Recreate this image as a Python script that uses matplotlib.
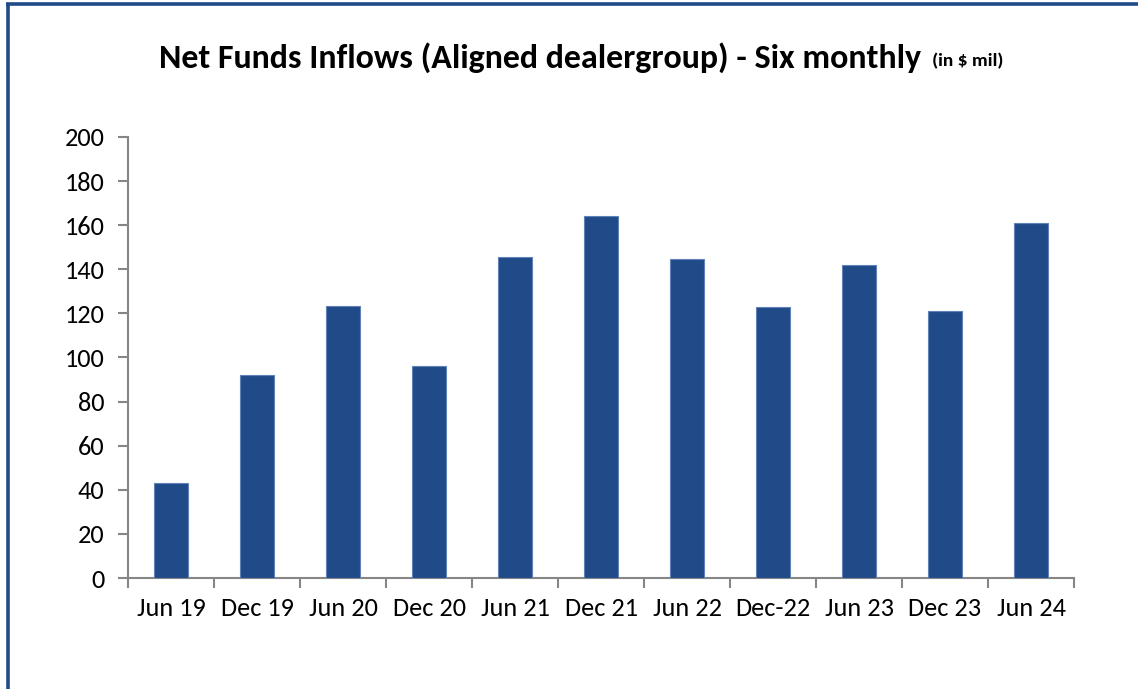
import matplotlib
matplotlib.use("Agg")
import matplotlib.pyplot as plt
from matplotlib import font_manager
from matplotlib.lines import Line2D

categories = ["Jun 19", "Dec 19", "Jun 20", "Dec 20", "Jun 21", "Dec 21",
              "Jun 22", "Dec-22", "Jun 23", "Dec 23", "Jun 24"]
inflows = [43, 92, 123.5, 96, 145.4, 164.2, 144.7, 122.8, 141.8, 121.2, 160.9]
yticks = [0, 20, 40, 60, 80, 100, 120, 140, 160, 180, 200]

names = {f.name for f in font_manager.fontManager.ttflist}
font = "Carlito" if "Carlito" in names else ("Lato" if "Lato" in names else "DejaVu Sans")
plt.rcParams['font.family'] = [font, 'DejaVu Sans']

fig = plt.figure(figsize=(11.38, 6.89), dpi=100)
ax = fig.add_axes([0.1125, 0.1611, 0.8313, 0.6401])

x = list(range(len(categories)))
ax.bar(x, inflows, width=0.4, color="#204B88", edgecolor="#5F82B8", linewidth=0.8, zorder=3)

ax.set_xlim(-0.5, len(categories) - 0.5)
ax.set_ylim(0, 200)
ax.set_yticks(yticks)
ax.set_yticklabels([str(t) for t in yticks])
ax.set_xticks(x)
ax.set_xticklabels(categories)
ax.set_xticks([i - 0.5 for i in range(len(categories) + 1)], minor=True)

axis_col = "#868686"
for s in ["top", "right"]:
    ax.spines[s].set_visible(False)
for s in ["left", "bottom"]:
    ax.spines[s].set_color(axis_col)
    ax.spines[s].set_linewidth(1.5)

ax.tick_params(axis="y", length=7, width=1.5, color=axis_col, labelsize=19, pad=10, labelcolor="#000000")
ax.tick_params(axis="x", which="major", length=0, labelsize=19, pad=14, labelcolor="#000000")
ax.tick_params(axis="x", which="minor", length=7, width=1.5, color=axis_col)

fig.text(0.4745, 0.917, "Net Funds Inflows (Aligned dealergroup) - Six monthly",
         ha="center", va="center", fontsize=24.5, fontweight="bold")
fig.text(0.819, 0.911, "(in $ mil)", ha="left", va="center", fontsize=14, fontweight="bold")

border = "#204B88"
fig.add_artist(Line2D([7.5 / 1138, 7.5 / 1138], [0, 1 - 3.5 / 689], color=border, lw=2.6,
                      transform=fig.transFigure, solid_capstyle="butt"))
fig.add_artist(Line2D([6 / 1138, 1], [1 - 3.5 / 689, 1 - 3.5 / 689], color=border, lw=2.6,
                      transform=fig.transFigure, solid_capstyle="butt"))

fig.savefig("out.png", dpi=100)
